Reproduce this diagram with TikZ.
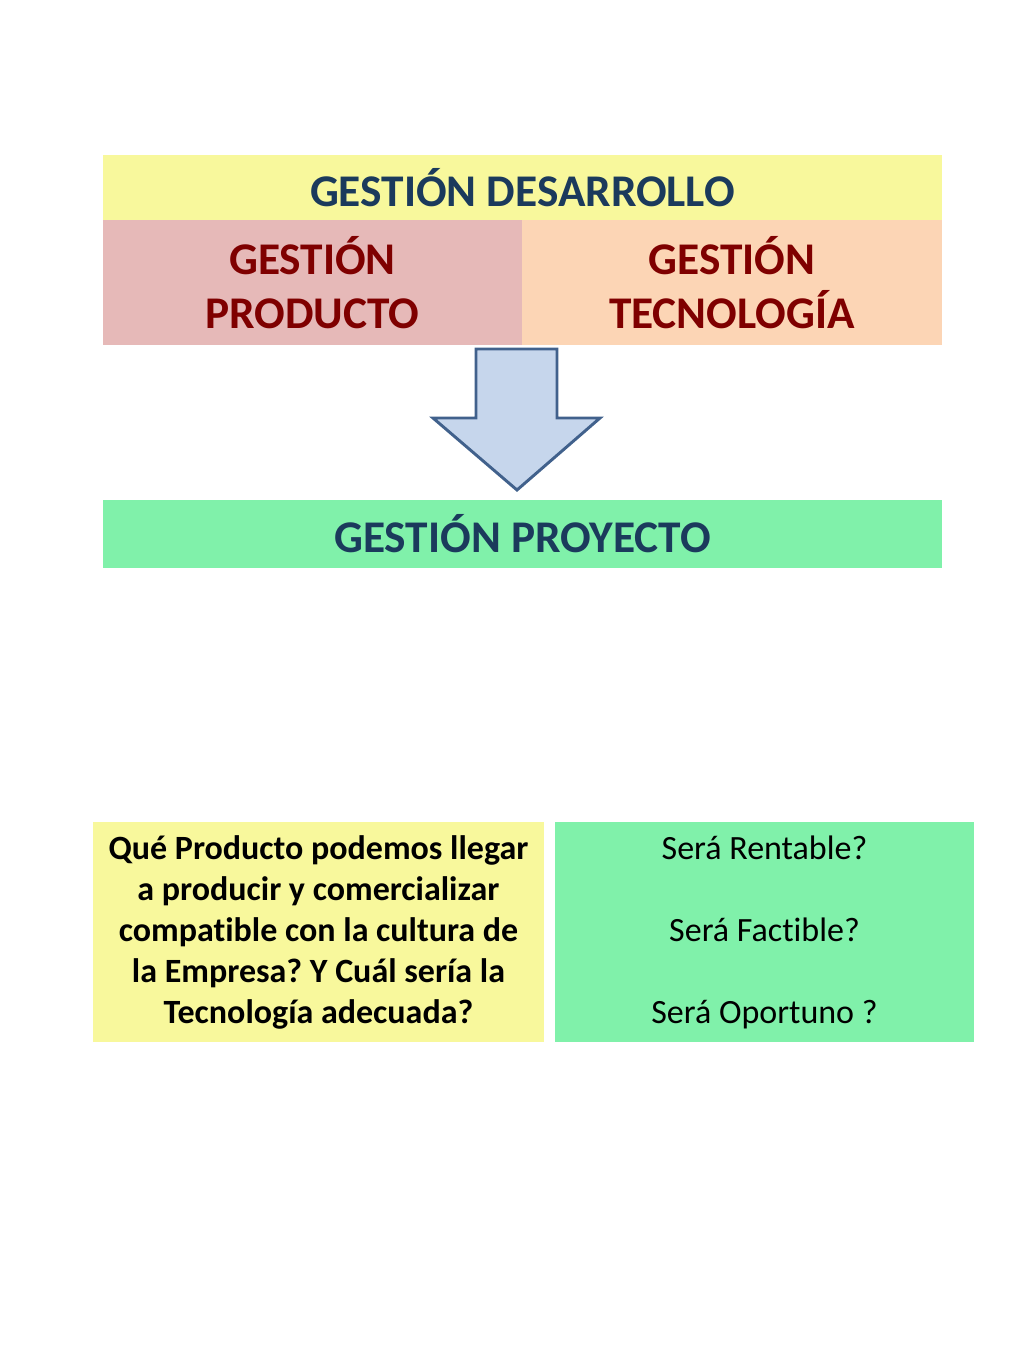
\documentclass[tikz,border=0pt]{standalone}
\usepackage{fontspec}
\setmainfont{Carlito}[Ligatures=NoCommon]
\usepackage{tikz}
\usetikzlibrary{positioning,shapes}
\frenchspacing

\definecolor{amarillo}{HTML}{F8F89C}
\definecolor{rosado}{HTML}{E6B9B8}
\definecolor{salmon}{HTML}{FCD5B5}
\definecolor{menta}{HTML}{80F1AA}
\definecolor{celeste}{HTML}{C6D6EC}
\definecolor{bordeazul}{HTML}{41618C}
\definecolor{azul}{HTML}{1B3A5C}
\definecolor{granate}{HTML}{7F0000}

\begin{document}
\begin{tikzpicture}[x=0.75pt, y=-0.75pt, node distance=2cm, auto]

\tikzstyle{block} = [rectangle, inner sep=0pt, text centered, align=center]
\tikzstyle{titulo} = [block, font=\fontsize{34}{41}\selectfont\bfseries, text=azul,
    minimum width=629.25pt]
\tikzstyle{area} = [block, font=\fontsize{34}{41}\selectfont\bfseries, text=granate,
    minimum width=314.6pt, minimum height=93.75pt]
\tikzstyle{pregunta} = [block, font=\fontsize{25.5}{30.75}\selectfont,
    minimum height=165pt]
\tikzstyle{flecha} = [draw=bordeazul, fill=celeste, line width=2.2pt, line join=miter]

    \useasboundingbox (0,0) rectangle (1024,1365);

    % Place nodes
    \node [titulo, fill=amarillo, minimum height=48.75pt] at (522.5,187.5) (desarrollo) {GESTIÓN DESARROLLO};
    \node [area, fill=rosado] at (312.5,282.5) (producto) {GESTIÓN\\PRODUCTO};
    \node [area, fill=salmon, right of=producto, node distance=314.6pt] (tecnologia) {GESTIÓN\\TECNOLOGÍA};
    \node [titulo, fill=menta, minimum height=51pt, below of=desarrollo, node distance=259.9pt] (proyecto) {GESTIÓN PROYECTO};
    \node [pregunta, fill=amarillo, minimum width=338.25pt, font=\fontsize{25.5}{30.75}\selectfont\bfseries] at (318.5,932) (cultura)
        {Qué Producto podemos llegar\\a producir y comercializar\\compatible con la cultura de\\la Empresa? Y Cuál sería la\\Tecnología adecuada?};
    \node [pregunta, fill=menta, minimum width=314.25pt, right of=cultura, node distance=334.5pt] (viabilidad)
        {Será Rentable?\\[30.75pt]Será Factible?\\[30.75pt]Será Oportuno ?};

    % Draw arrow
    \draw [flecha] (476,349) -- (557,349) -- (557,418) -- (600,418) -- (517,490)
        -- (433,418) -- (476,418) -- cycle;
\end{tikzpicture}
\end{document}
